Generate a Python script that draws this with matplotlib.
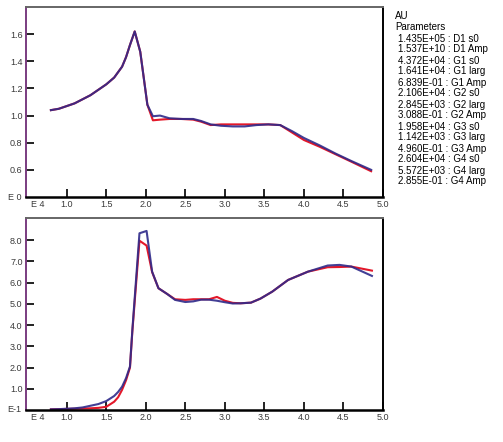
import matplotlib.pyplot as plt

plt.rcParams['font.family'] = ['Liberation Sans', 'DejaVu Sans']

# top panel (AU, E 0 scale)
x_top = [0.80, 0.90, 1.00, 1.10, 1.20, 1.30, 1.40, 1.50, 1.60, 1.70, 1.75, 1.80,
         1.86, 1.93, 2.02, 2.09, 2.18, 2.30, 2.45, 2.60, 2.70, 2.82, 2.95, 3.10,
         3.25, 3.40, 3.55, 3.70, 3.85, 4.00, 4.20, 4.40, 4.60, 4.85]
top_blue = [1.04, 1.05, 1.07, 1.09, 1.12, 1.15, 1.19, 1.23, 1.28, 1.36, 1.43, 1.52,
            1.62, 1.47, 1.08, 0.995, 1.00, 0.98, 0.975, 0.975, 0.96, 0.935, 0.925, 0.92,
            0.92, 0.93, 0.935, 0.93, 0.885, 0.835, 0.78, 0.72, 0.665, 0.60]
top_red = [1.04, 1.05, 1.07, 1.09, 1.12, 1.15, 1.19, 1.23, 1.28, 1.36, 1.43, 1.52,
           1.62, 1.47, 1.08, 0.965, 0.97, 0.975, 0.975, 0.97, 0.955, 0.93, 0.935, 0.935,
           0.935, 0.935, 0.935, 0.93, 0.875, 0.82, 0.77, 0.715, 0.66, 0.59]

# bottom panel (E-1 scale)
x_bot = [0.80, 0.90, 1.00, 1.10, 1.20, 1.30, 1.40, 1.50, 1.60, 1.65, 1.70, 1.75,
         1.80, 1.83, 1.92, 2.01, 2.08, 2.16, 2.27, 2.37, 2.50, 2.60, 2.70, 2.80,
         2.90, 3.00, 3.10, 3.20, 3.33, 3.45, 3.60, 3.80, 4.05, 4.30, 4.45, 4.60, 4.86]
bot_blue = [0.03, 0.04, 0.06, 0.08, 0.12, 0.20, 0.28, 0.42, 0.66, 0.85, 1.10, 1.50,
            2.05, 3.77, 8.33, 8.44, 6.52, 5.74, 5.47, 5.19, 5.09, 5.12, 5.20, 5.20,
            5.15, 5.08, 5.02, 5.03, 5.06, 5.25, 5.58, 6.13, 6.52, 6.81, 6.84, 6.76, 6.32]
bot_red = [0.03, 0.04, 0.05, 0.06, 0.07, 0.08, 0.10, 0.15, 0.39, 0.60, 0.95, 1.40,
           2.00, 3.70, 7.98, 7.75, 6.50, 5.74, 5.47, 5.22, 5.19, 5.22, 5.22, 5.22,
           5.33, 5.15, 5.05, 5.03, 5.06, 5.25, 5.58, 6.13, 6.52, 6.73, 6.74, 6.76, 6.57]

x_ticks = [1.0, 1.5, 2.0, 2.5, 3.0, 3.5, 4.0, 4.5, 5.0]
top_yticks = [0.6, 0.8, 1.0, 1.2, 1.4, 1.6]
bot_yticks = [1.0, 2.0, 3.0, 4.0, 5.0, 6.0, 7.0, 8.0]

param_lines = ["1.435E+05 : D1 s0", "1.537E+10 : D1 Amp", "4.372E+04 : G1 s0",
               "1.641E+04 : G1 larg", "6.839E-01 : G1 Amp", "2.106E+04 : G2 s0",
               "2.845E+03 : G2 larg", "3.088E-01 : G2 Amp", "1.958E+04 : G3 s0",
               "1.142E+03 : G3 larg", "4.960E-01 : G3 Amp", "2.604E+04 : G4 s0",
               "5.572E+03 : G4 larg", "2.855E-01 : G4 Amp"]

RED = '#e3182a'
BLUE = '#2e2a8a'
W, H = 503, 442

fig = plt.figure(figsize=(5.03, 4.42), dpi=100)
ax1 = fig.add_axes([26 / W, 1 - 197 / H, 357 / W, 190 / H])
ax2 = fig.add_axes([26 / W, 1 - 410 / H, 357 / W, 192 / H])


def style(ax, yticks, ylim, ylab):
    ax.set_xlim(0.485, 5.0)
    ax.set_ylim(*ylim)
    ax.set_xticks(x_ticks)
    ax.set_xticklabels([f"{v:.1f}" for v in x_ticks])
    ax.set_yticks(yticks)
    ax.set_yticklabels([f"{v:.1f}" for v in yticks])
    ax.tick_params(direction='in', length=6, width=1.4, labelsize=6.5,
                   labelcolor='#3a3a3a', pad=2.5, color='#222')
    ax.spines['left'].set_color('#7a3c80')
    ax.spines['top'].set_color('#666')
    for s in ax.spines.values():
        s.set_linewidth(1.4)
    ax.spines['bottom'].set_linewidth(1.8)
    ax.text(-0.012, 0, ylab, transform=ax.transAxes, ha='right', va='center',
            fontsize=6.5, color='#3a3a3a')
    ax.text(0.015, -0.015, "E 4", transform=ax.transAxes, ha='left', va='top',
            fontsize=6.5, color='#3a3a3a')


ax1.plot(x_top, top_red, color=RED, lw=1.5)
ax1.plot(x_top, top_blue, color=BLUE, lw=1.5, alpha=0.9)
style(ax1, top_yticks, (0.4, 1.8), "E 0")

ax2.plot(x_bot, bot_red, color=RED, lw=1.5)
ax2.plot(x_bot, bot_blue, color=BLUE, lw=1.5, alpha=0.9)
style(ax2, bot_yticks, (0.0, 9.05), "E-1")

fig.text(395 / W, 1 - 16 / H, "AU", fontsize=7, va='center', ha='left')
fig.text(395 / W, 1 - 27.5 / H, "Parameters", fontsize=7, va='center', ha='left')
for i, line in enumerate(param_lines):
    fig.text(398 / W, 1 - (38.5 + 11 * i) / H, line, fontsize=7, va='center', ha='left')

fig.savefig('out.png', dpi=100)
